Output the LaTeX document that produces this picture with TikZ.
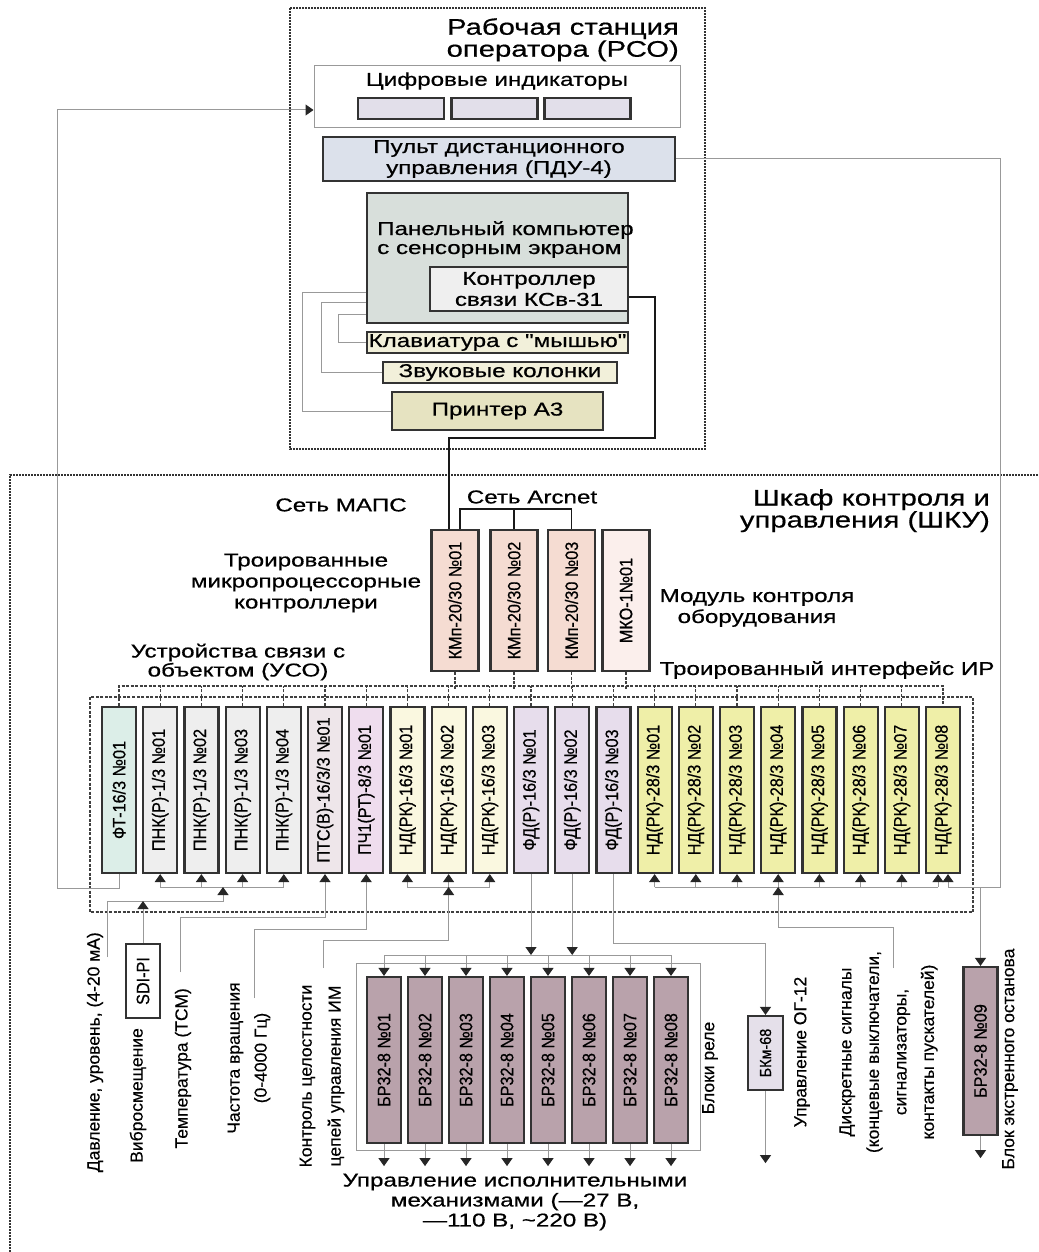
\documentclass[tikz,border=0pt]{standalone}
\usepackage{fontspec}
\setmainfont{Liberation Sans}
\newfontfamily\hfont[FakeStretch=1.3,FakeBold=0.6]{Liberation Sans}
\newfontfamily\vfont[FakeStretch=0.9,FakeBold=0.6]{Liberation Sans}
\newfontfamily\lfont[FakeBold=0.3]{Liberation Sans}
\usetikzlibrary{arrows.meta,calc}

\definecolor{digcol}{HTML}{E2DFEA}
\definecolor{pducol}{HTML}{DCE1EB}
\definecolor{pancol}{HTML}{D8DFDB}
\definecolor{ksvcol}{HTML}{EFEFEF}
\definecolor{keycol}{HTML}{F2F0DA}
\definecolor{prncol}{HTML}{E6E3C1}
\definecolor{kmpcol}{HTML}{F5DCD2}
\definecolor{mkocol}{HTML}{FBEFEC}
\definecolor{ftcol}{HTML}{DCEEE8}
\definecolor{pnkcol}{HTML}{EEEEEE}
\definecolor{ptscol}{HTML}{EEE6EA}
\definecolor{pchcol}{HTML}{EFDDEE}
\definecolor{ndscol}{HTML}{FAF8E0}
\definecolor{fdcol}{HTML}{E7DDEC}
\definecolor{ndcol}{HTML}{EFEFA8}
\definecolor{brcol}{HTML}{B9A2AB}
\definecolor{bkmcol}{HTML}{E5E0EA}

\tikzset{
  hbox/.style={draw=black!80, line width=2.2pt, inner sep=0pt},
  modbox/.style={hbox, rotate=90, minimum width=166pt, minimum height=34pt,
    font=\vfont\fontsize{18}{18}\selectfont},
  ctrlbox/.style={modbox, minimum width=141pt, minimum height=47pt},
  boxline/.style={draw=black!80, line width=1.2pt, dash pattern=on 2pt off 1pt},
  bus/.style={draw=black!75, line width=1.2pt, dash pattern=on 3pt off 1.5pt},
  wire/.style={draw=black!40, line width=1pt},
  mline/.style={draw=black!90, line width=1.8pt},
  ar/.style={-{Triangle[width=11pt,length=8pt,color=black!85,fill=black!85]}},
  lab/.style={font=\hfont\fontsize{18.6}{21}\selectfont, inner sep=0pt, align=center},
  ttl/.style={font=\hfont\fontsize{22.5}{22}\selectfont, inner sep=0pt, align=right},
  vlab/.style={rotate=90, font=\lfont\fontsize{17.5}{27.5}\selectfont, inner sep=0pt, align=center},
}

\begin{document}
\begin{tikzpicture}[x=1pt, y=-1pt]
  \fill[white] (0,0) rectangle (1038,1252);
  \useasboundingbox (0,0) rectangle (1038,1252);

  % operator workstation
  \draw[boxline] (290,8) rectangle (705,449);
  \node[ttl, anchor=north east] (rsott) at (679,18) {Рабочая станция\\оператора (РСО)};
  \node[draw=black!40, line width=1pt, minimum width=366pt, minimum height=62pt] (digi) at (497,97) {};
  \node[lab] (digitt) at (497,81) {Цифровые индикаторы};
  \foreach \x [count=\n] in {401,494.5,587.5}
    \node[hbox, fill=digcol, minimum width=86pt, minimum height=21pt] (dig\n) at (\x,108.5) {};
  \node[hbox, lab, fill=pducol, minimum width=352pt, minimum height=44pt] (pdu) at (499,159)
    {Пульт дистанционного\\управления (ПДУ-4)};
  \node[hbox, fill=pancol, minimum width=261pt, minimum height=130pt] (panel) at (497.5,258) {};
  \node[lab, align=left, anchor=north west, font=\hfont\fontsize{18.6}{19}\selectfont] (paneltt) at (377,221)
    {Панельный компьютер\\с сенсорным экраном};
  \node[hbox, lab, fill=ksvcol, minimum width=198pt, minimum height=44pt] (ksv) at (529,289)
    {Контроллер\\связи КСв-31};
  \node[hbox, lab, fill=keycol, minimum width=261pt, minimum height=21pt] (keyb) at (497.5,342.5)
    {Клавиатура с "мышью"};
  \node[hbox, lab, fill=keycol, minimum width=234pt, minimum height=21pt] (sound) at (500,372.5)
    {Звуковые колонки};
  \node[hbox, lab, fill=prncol, minimum width=211pt, minimum height=38pt] (printer) at (497.5,411)
    {Принтер А3};
  \draw[wire] (panel.west |- 0,292) -| ([xshift=-88pt]printer.west) -- (printer.west);
  \draw[wire] (panel.west |- 0,302) -| ([xshift=-60pt]sound.west) -- (sound.west);
  \draw[wire] (panel.west |- 0,314) -| ([xshift=-27pt]keyb.west) -- (keyb.west);

  % control cabinet
  \draw[boxline] (10,1252) -- (10,475) -- (1038,475);
  \node[ttl, anchor=north east] (skutt) at (990,489) {Шкаф контроля и\\управления (ШКУ)};
  \node[lab] (mapstt) at (341,505) {Сеть МАПС};
  \node[lab] (arctt) at (532,497) {Сеть Arcnet};
  \node[lab] (kmptt) at (306,583) {Троированные\\микропроцессорные\\контроллери};
  \node[lab] (mkott) at (757,608) {Модуль контроля\\оборудования};
  \node[lab] (irtt) at (827,670) {Троированный интерфейс ИР};
  \node[lab, font=\hfont\fontsize{18.6}{19}\selectfont] (usott) at (238,662) {Устройства связи с\\объектом (УСО)};

  \foreach \n/\x in {1/455,2/514,3/571.5}
    \node[ctrlbox, fill=kmpcol] (kmp\n) at (\x,600.5) {КМп-20/30 №0\n};
  \node[ctrlbox, fill=mkocol] (mko) at (626,600.5) {МКО-1№01};
  \draw[mline] (ksv.east |- 0,297) -| (655,438) -| ([xshift=-6pt]kmp1.east);
  \draw[mline, line width=1.4pt] ([xshift=5pt]kmp1.east) -- ++(0,-20) -| (kmp3.east);
  \draw[mline, line width=1.4pt] (kmp2.east) -- ++(0,-20);

  \draw[bus] (90,697) rectangle (973,912);
  \node[modbox, fill=ftcol] (ft) at (119,790) {ФТ-16/3 №01};
  \foreach \n in {1,...,4}
    \node[modbox, fill=pnkcol] (pnk\n) at (119+41.2*\n,790) {ПНК(Р)-1/3 №0\n};
  \node[modbox, fill=ptscol] (pts) at (119+41.2*5,790) {ПТС(В)-16/3/3 №01};
  \node[modbox, fill=pchcol] (pch) at (119+41.2*6,790) {ПЧ1(РТ)-8/3 №01};
  \foreach \n in {1,2,3}
    \node[modbox, fill=ndscol] (nds\n) at (119+41.2*6+41.2*\n,790) {НД(РК)-16/3 №0\n};
  \foreach \n in {1,2,3}
    \node[modbox, fill=fdcol] (fd\n) at (119+41.2*9+41.2*\n,790) {ФД(Р)-16/3 №0\n};
  \foreach \n in {1,...,8}
    \node[modbox, fill=ndcol] (nd\n) at (119+41.2*12+41.2*\n,790) {НД(РК)-28/3 №0\n};

  \draw[bus] (ft.east) -- ++(0,-20) -| (nd8.east);
  \foreach \m in {pnk1,pnk2,pnk3,pnk4,pts,pch,nds1,nds2,nds3,fd1,fd2,fd3,nd1,nd2,nd3,nd4,nd5,nd6,nd7}
    \draw[bus] (\m.east) -- ++(0,-20);
  \foreach \m in {kmp1,kmp2,kmp3,mko}
    \draw[bus] (\m.west) -- ++(0,17);

  % relay blocks
  \draw[wire] (356,963) rectangle (700,1150);
  \foreach \n in {1,...,8}
    \node[modbox, fill=brcol] (br\n) at (343+41*\n,1060) {БР32-8 №0\n};
  \node[modbox, fill=brcol, minimum width=168pt] (br9) at (980.5,1051) {БР32-8 №09};
  \node[modbox, fill=bkmcol, minimum width=74pt, minimum height=35pt, font=\vfont\fontsize{16}{16}\selectfont] (bkm) at (765.5,1053) {БКм-68};
  \node[modbox, fill=white, minimum width=74pt, minimum height=34pt] (sdi) at (143,981) {SDI-PI};

  \node[vlab, anchor=east] (press) at (95,932) {Давление, уровень, (4-20 мА)};
  \node[vlab, anchor=east] (vibro) at (138,1028) {Вибросмещение};
  \node[vlab, anchor=east] (temp) at (183,988) {Температура (ТСМ)};
  \node[vlab, font=\lfont\fontsize{17.5}{27}\selectfont] (freq) at (249,1058) {Частота вращения\\(0-4000 Гц)};
  \node[vlab, font=\lfont\fontsize{17.5}{29}\selectfont] (integ) at (322,1076) {Контроль целостности\\цепей управления ИМ};
  \node[vlab] (relt) at (710,1068) {Блоки реле};
  \node[vlab] (ogt) at (802,1052) {Управление ОГ-12};
  \node[vlab] (disc) at (888.5,1052) {Дискретные сигналы\\(концевые выключатели,\\сигнализаторы,\\контакты пускателей)};
  \node[vlab] (stopt) at (1010,1059) {Блок экстренного останова};
  \node[lab, font=\hfont\fontsize{18.6}{20}\selectfont] (actt) at (515,1202)
    {Управление исполнительными\\механизмами (—27 В,\\—110 В, \textasciitilde220 В)};

  % signal wires
  \draw[wire,ar] (ft.west) |- (57,888) |- (digi.west |- 0,110);
  \draw[wire,ar] (pdu.east) -| (1000,887) -| ($(nd8.west)+(5,0)$);
  \draw[wire,ar] (br9.east |- 0,887) -- (br9.east);
  \draw[wire,ar] (br9.west) -- ++(0,22);

  \coordinate (pressin) at (107,957);
  \coordinate (pnkin) at (223,887);
  \draw[wire] (pnk1.west |- pnkin) -- (pnk4.west |- pnkin);
  \foreach \n in {1,...,4}
    \draw[wire,ar] (pnk\n.west |- pnkin) -- (pnk\n.west);
  \draw[wire,ar] (pressin) |- (223,901) -- (pnkin);
  \draw[wire,ar] (sdi.east) -- (sdi.east |- 0,901);

  \coordinate (tempin) at (180,972);
  \draw[wire,ar] (tempin) |- (pts.west |- 0,917) -- (pts.west);
  \coordinate (freqin) at (254,998);
  \draw[wire,ar] (freqin) |- (pch.west |- 0,929) -- (pch.west);

  \coordinate (integin) at (323,968);
  \coordinate (ndsin) at (nds2.west |- 0,887);
  \draw[wire] (nds1.west |- ndsin) -- (nds3.west |- ndsin);
  \foreach \n in {1,2,3}
    \draw[wire,ar] (nds\n.west |- ndsin) -- (nds\n.west);
  \draw[wire,ar] (integin) |- (ndsin |- 0,940) -- (ndsin);

  \draw[wire,ar] (fd1.west) -- (fd1.west |- 0,955);
  \draw[wire,ar] (fd2.west) -- (fd2.west |- 0,955);
  \draw[wire] (br1.east |- 0,955) -- (br8.east |- 0,955);
  \foreach \n in {1,...,8} {
    \draw[wire,ar] (br\n.east |- 0,955) -- (br\n.east);
    \draw[wire,ar] (br\n.west) -- ++(0,22);
  }
  \draw[wire,ar] (fd3.west) |- (bkm.east |- 0,943) -- (bkm.east);
  \draw[wire,ar] (bkm.west) -- ++(0,72);

  \coordinate (discin) at (893,968);
  \coordinate (ndin) at (nd4.west |- 0,887);
  \draw[wire] (nd1.west |- ndin) -- ($(nd8.west |- ndin)+(-5,0)$);
  \foreach \n in {1,...,7}
    \draw[wire,ar] (nd\n.west |- ndin) -- (nd\n.west);
  \draw[wire,ar] ($(nd8.west |- ndin)+(-5,0)$) -- ($(nd8.west)+(-5,0)$);
  \draw[wire,ar] (discin) |- (ndin |- 0,927) -- (ndin);
\end{tikzpicture}
\end{document}
